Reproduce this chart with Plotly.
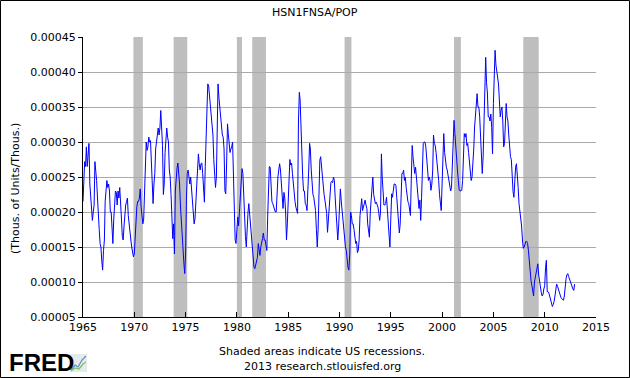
import pandas as pd
import plotly.graph_objects as go

# ---- data (monthly values, in units of 1e-4 Thous. of Units/Thous.) ----
first_month = "1965-01-01"
value_unit = 1e-4

hs_1965_1969 = [
    2.15, 2.55, 2.72, 2.65, 2.93, 2.65, 2.85, 2.98, 2.40, 2.25, 2.05, 1.88,
    2.00, 2.10, 2.72, 2.60, 2.45, 2.20, 1.85, 1.75, 1.55, 1.50, 1.30, 1.17,
    1.45, 1.60, 2.15, 2.40, 2.45, 2.35, 2.40, 2.30, 2.00, 2.00, 1.65, 1.55,
    1.90, 2.20, 2.30, 2.28, 2.10, 2.30, 2.20, 2.35, 2.00, 1.90, 1.65, 1.60,
    1.80, 2.05, 2.10, 2.15, 2.20, 1.95, 1.80, 1.65, 1.60, 1.50, 1.45, 1.36,
]
hs_1970_1979 = [
    1.40, 1.65, 1.95, 2.07, 2.15, 2.15, 2.20, 2.33, 2.07, 1.95, 1.83, 1.90,
    2.30, 2.75, 3.00, 2.88, 2.93, 3.07, 3.00, 3.02, 2.60, 2.40, 2.12, 2.40,
    2.55, 2.90, 2.98, 3.05, 3.20, 3.10, 3.20, 3.45, 3.20, 2.95, 2.25, 2.40,
    2.85, 3.02, 3.20, 3.07, 3.00, 2.60, 2.50, 2.25, 1.95, 1.62, 1.83, 1.40,
    2.30, 2.55, 2.62, 2.70, 2.55, 2.40, 2.10, 1.85, 1.72, 1.45, 1.27, 1.12,
    1.40, 2.20, 2.55, 2.60, 2.52, 2.40, 2.50, 2.35, 2.15, 1.98, 1.83, 1.90,
    2.20, 2.50, 2.64, 2.83, 2.69, 2.60, 2.69, 2.70, 2.55, 2.40, 2.14, 2.65,
    2.98, 3.45, 3.83, 3.80, 3.64, 3.45, 3.30, 3.25, 3.10, 2.75, 2.40, 2.35,
    2.50, 3.60, 3.83, 3.64, 3.50, 3.30, 3.15, 3.10, 3.07, 2.90, 2.30, 2.26,
    2.70, 3.26, 3.12, 2.88, 2.85, 2.90, 2.93, 3.00, 2.50, 2.00, 1.60, 1.55,
]
hs_1980_1989 = [
    1.88, 1.93, 1.80, 2.02, 2.25, 2.40, 2.62, 2.55, 2.20, 2.00, 1.65, 1.50,
    1.83, 2.00, 2.12, 1.96, 1.79, 1.60, 1.40, 1.26, 1.21, 1.19, 1.24, 1.26,
    1.35, 1.55, 1.45, 1.38, 1.50, 1.55, 1.62, 1.70, 1.60, 1.60, 1.50, 1.45,
    1.93, 2.21, 2.65, 2.64, 2.36, 2.15, 2.12, 2.07, 2.02, 2.00, 2.00, 2.30,
    2.50, 2.60, 2.69, 2.60, 2.40, 2.12, 2.05, 2.28, 2.20, 2.00, 1.60, 1.83,
    2.17, 2.70, 2.75, 2.67, 2.70, 2.55, 2.40, 2.21, 2.15, 2.07, 2.02, 1.98,
    3.30, 3.71, 3.60, 3.20, 2.65, 2.50, 2.30, 2.30, 2.12, 2.10, 2.02, 2.25,
    2.60, 2.98, 2.90, 2.60, 2.30, 2.25, 2.21, 2.12, 2.02, 1.75, 1.50, 1.74,
    2.30, 2.74, 2.79, 2.64, 2.50, 2.30, 2.25, 2.17, 2.07, 1.98, 1.71, 1.93,
    2.17, 2.31, 2.42, 2.44, 2.42, 2.50, 2.45, 2.20, 1.98, 1.90, 1.60, 1.80,
]
hs_1990_1999 = [
    2.10, 2.33, 2.17, 2.02, 1.98, 1.83, 1.60, 1.50, 1.45, 1.30, 1.20, 1.17,
    1.40, 2.00, 1.95, 1.83, 1.83, 1.75, 1.66, 1.55, 1.58, 1.42, 1.45, 1.60,
    1.95, 2.15, 2.19, 2.02, 2.07, 2.12, 2.17, 2.10, 2.05, 1.83, 1.74, 1.64,
    2.00, 2.21, 2.45, 2.50, 2.25, 2.17, 2.12, 2.14, 2.10, 2.07, 1.98, 1.88,
    2.00, 2.83, 2.50, 2.31, 2.10, 2.10, 2.12, 2.21, 2.02, 1.80, 1.64, 1.50,
    1.90, 2.26, 2.21, 2.35, 2.40, 2.40, 2.38, 2.21, 2.02, 1.85, 1.70, 1.83,
    2.12, 2.55, 2.55, 2.60, 2.45, 2.50, 2.35, 2.21, 2.15, 2.12, 2.02, 1.95,
    2.50, 2.95, 2.79, 2.60, 2.55, 2.64, 2.50, 2.40, 2.20, 2.05, 2.17, 1.88,
    2.21, 2.50, 2.98, 3.00, 3.00, 2.93, 2.75, 2.55, 2.45, 2.50, 2.45, 2.31,
    2.40, 2.60, 3.10, 2.98, 2.95, 2.85, 2.74, 2.60, 2.45, 2.25, 2.10, 2.02,
]
hs_2000_2009 = [
    2.40, 2.95, 3.12, 2.85, 2.72, 2.64, 2.60, 2.52, 2.50, 2.40, 2.30, 2.35,
    2.69, 3.17, 3.31, 3.12, 2.88, 2.75, 2.60, 2.45, 2.31, 2.30, 2.31, 2.31,
    2.45, 2.88, 3.12, 3.07, 3.12, 2.95, 2.98, 2.85, 2.70, 2.55, 2.45, 2.50,
    2.65, 2.90, 3.20, 3.38, 3.55, 3.69, 3.50, 3.50, 3.36, 3.07, 2.75, 2.55,
    2.79, 3.40, 4.02, 4.21, 3.85, 3.70, 3.36, 3.36, 3.30, 3.40, 3.21, 2.83,
    3.55, 3.93, 4.31, 4.10, 4.00, 3.93, 3.83, 3.60, 3.36, 3.45, 3.50, 3.30,
    2.93, 2.98, 3.20, 3.55, 3.36, 3.30, 3.10, 2.90, 2.79, 2.75, 2.45, 2.29,
    2.21, 2.45, 2.64, 2.69, 2.55, 2.35, 2.12, 2.02, 1.90, 1.80, 1.60, 1.48,
    1.50, 1.55, 1.58, 1.58, 1.55, 1.45, 1.30, 1.12, 1.02, 0.95, 0.82, 0.80,
    1.00, 1.07, 1.15, 1.20, 1.26, 1.10, 1.00, 0.93, 0.85, 0.80, 0.82, 0.90,
]
hs_2010_2012 = [
    0.95, 1.21, 1.31, 0.86, 0.86, 0.84, 0.78, 0.75, 0.70, 0.65, 0.68, 0.72,
    0.80, 0.88, 0.97, 0.94, 0.90, 0.87, 0.80, 0.78, 0.76, 0.75, 0.74, 0.80,
    0.95, 1.05, 1.10, 1.12, 1.08, 1.04, 1.00, 0.97, 0.93, 0.90, 0.88, 0.97,
]

recession_starts = ["1969-12-01", "1973-11-01", "1980-01-01", "1981-07-01",
                    "1990-07-01", "2001-03-01", "2007-12-01"]
recession_ends = ["1970-11-01", "1975-03-01", "1980-07-01", "1982-11-01",
                  "1991-03-01", "2001-11-01", "2009-06-01"]

y_tick_values = [0.00005, 0.00010, 0.00015, 0.00020, 0.00025,
                 0.00030, 0.00035, 0.00040, 0.00045]
x_tick_years = [1965, 1970, 1975, 1980, 1985, 1990, 1995, 2000, 2005, 2010, 2015]

title_text = "HSN1FNSA/POP"
y_title_text = "(Thous. of Units/Thous.)"
footer_line1 = "Shaded areas indicate US recessions."
footer_line2 = "2013 research.stlouisfed.org"

# ---- build ----
all_vals = hs_1965_1969 + hs_1970_1979 + hs_1980_1989 + hs_1990_1999 + hs_2000_2009 + hs_2010_2012
dates = pd.date_range(first_month, periods=len(all_vals), freq="MS")
yvals = [v * value_unit for v in all_vals]

W, H = 630, 378
ML, MR, MT, MB = 83, 34, 37, 61
PW, PH = W - ML - MR, H - MT - MB

def px_x(px):
    return (px - ML) / PW

def px_y(py):
    return (H - MB - py) / PH

FONT = "DejaVu Sans"

fig = go.Figure()
fig.add_trace(go.Scatter(x=dates, y=yvals, mode="lines",
                         line=dict(color="#0000ff", width=1),
                         hoverinfo="skip", showlegend=False))

shapes = []
for s, e in zip(recession_starts, recession_ends):
    shapes.append(dict(type="rect", xref="x", yref="paper", x0=s, x1=e, y0=0, y1=1,
                       fillcolor="#bebebe", line=dict(width=0), layer="between"))
# outer frame of the image
shapes.append(dict(type="rect", xref="paper", yref="paper",
                   x0=px_x(0.5), x1=px_x(629.5), y0=px_y(377.5), y1=px_y(0.5),
                   line=dict(color="#000000", width=1), fillcolor="rgba(0,0,0,0)", layer="above"))

# small FRED chart icon
icon_x0, icon_x1, icon_y0, icon_y1 = 70, 87, 354, 372
shapes.append(dict(type="rect", xref="paper", yref="paper",
                   x0=px_x(icon_x0), x1=px_x(icon_x1), y0=px_y(icon_y1), y1=px_y(icon_y0),
                   line=dict(width=0), fillcolor="#e4ebee", layer="above"))
shapes.append(dict(type="path", xref="paper", yref="paper",
                   path="M {:.5f} {:.5f} L {:.5f} {:.5f} L {:.5f} {:.5f} L {:.5f} {:.5f} L {:.5f} {:.5f}".format(
                       px_x(71), px_y(370), px_x(75), px_y(365), px_x(78), px_y(367),
                       px_x(82), px_y(360), px_x(86), px_y(356)),
                   line=dict(color="#5a8fb8", width=1.2), layer="above"))
shapes.append(dict(type="path", xref="paper", yref="paper",
                   path="M {:.5f} {:.5f} L {:.5f} {:.5f} L {:.5f} {:.5f} L {:.5f} {:.5f} L {:.5f} {:.5f}".format(
                       px_x(71), px_y(371), px_x(75), px_y(368), px_x(79), px_y(369),
                       px_x(83), px_y(364), px_x(86), px_y(362)),
                   line=dict(color="#7fbf5a", width=1.2), layer="above"))

annotations = [
    dict(text=title_text, xref="paper", yref="paper", x=px_x(315), y=px_y(12),
         xanchor="center", yanchor="middle", showarrow=False,
         font=dict(family=FONT, size=11, color="#000000")),
    dict(text=y_title_text, xref="paper", yref="paper", x=px_x(15), y=px_y(189),
         xanchor="center", yanchor="middle", showarrow=False, textangle=-90,
         font=dict(family=FONT, size=11, color="#000000")),
    dict(text=footer_line1, xref="paper", yref="paper", x=px_x(322), y=px_y(351),
         xanchor="center", yanchor="middle", showarrow=False,
         font=dict(family=FONT, size=11, color="#000000")),
    dict(text=footer_line2, xref="paper", yref="paper", x=px_x(322), y=px_y(366),
         xanchor="center", yanchor="middle", showarrow=False,
         font=dict(family=FONT, size=11, color="#000000")),
    dict(text="<b>FRED</b>", xref="paper", yref="paper", x=px_x(7), y=px_y(362),
         xanchor="left", yanchor="middle", showarrow=False,
         font=dict(family="Liberation Sans", size=24, color="#000000")),
]

fig.update_layout(
    width=W, height=H,
    margin=dict(l=ML, r=MR, t=MT, b=MB, pad=0),
    paper_bgcolor="#ffffff", plot_bgcolor="#ffffff",
    shapes=shapes, annotations=annotations,
    showlegend=False,
    font=dict(family=FONT, size=11, color="#000000"),
)
fig.update_xaxes(
    type="date",
    range=["1965-01-01", "2015-01-01"],
    tickvals=[f"{y}-01-01" for y in x_tick_years],
    ticktext=[str(y) for y in x_tick_years],
    ticks="inside", ticklen=5, tickcolor="#000000", tickwidth=1,
    showline=True, linecolor="#000000", linewidth=1,
    showgrid=False, zeroline=False,
    tickfont=dict(family=FONT, size=11, color="#000000"),
)
fig.update_yaxes(
    range=[0.00005, 0.00045],
    tickvals=y_tick_values,
    tickformat=".5f",
    ticks="outside", ticklen=4, tickcolor="#000000", tickwidth=1,
    showline=True, linecolor="#000000", linewidth=1,
    showgrid=True, gridcolor="#aaaaaa", gridwidth=1,
    zeroline=False,
    tickfont=dict(family=FONT, size=11, color="#000000"),
)

fig.write_html(
    "out.html",
    config={"displayModeBar": False},
    post_script="document.body.style.margin='0';document.body.style.padding='0';document.body.style.overflow='hidden';",
)
